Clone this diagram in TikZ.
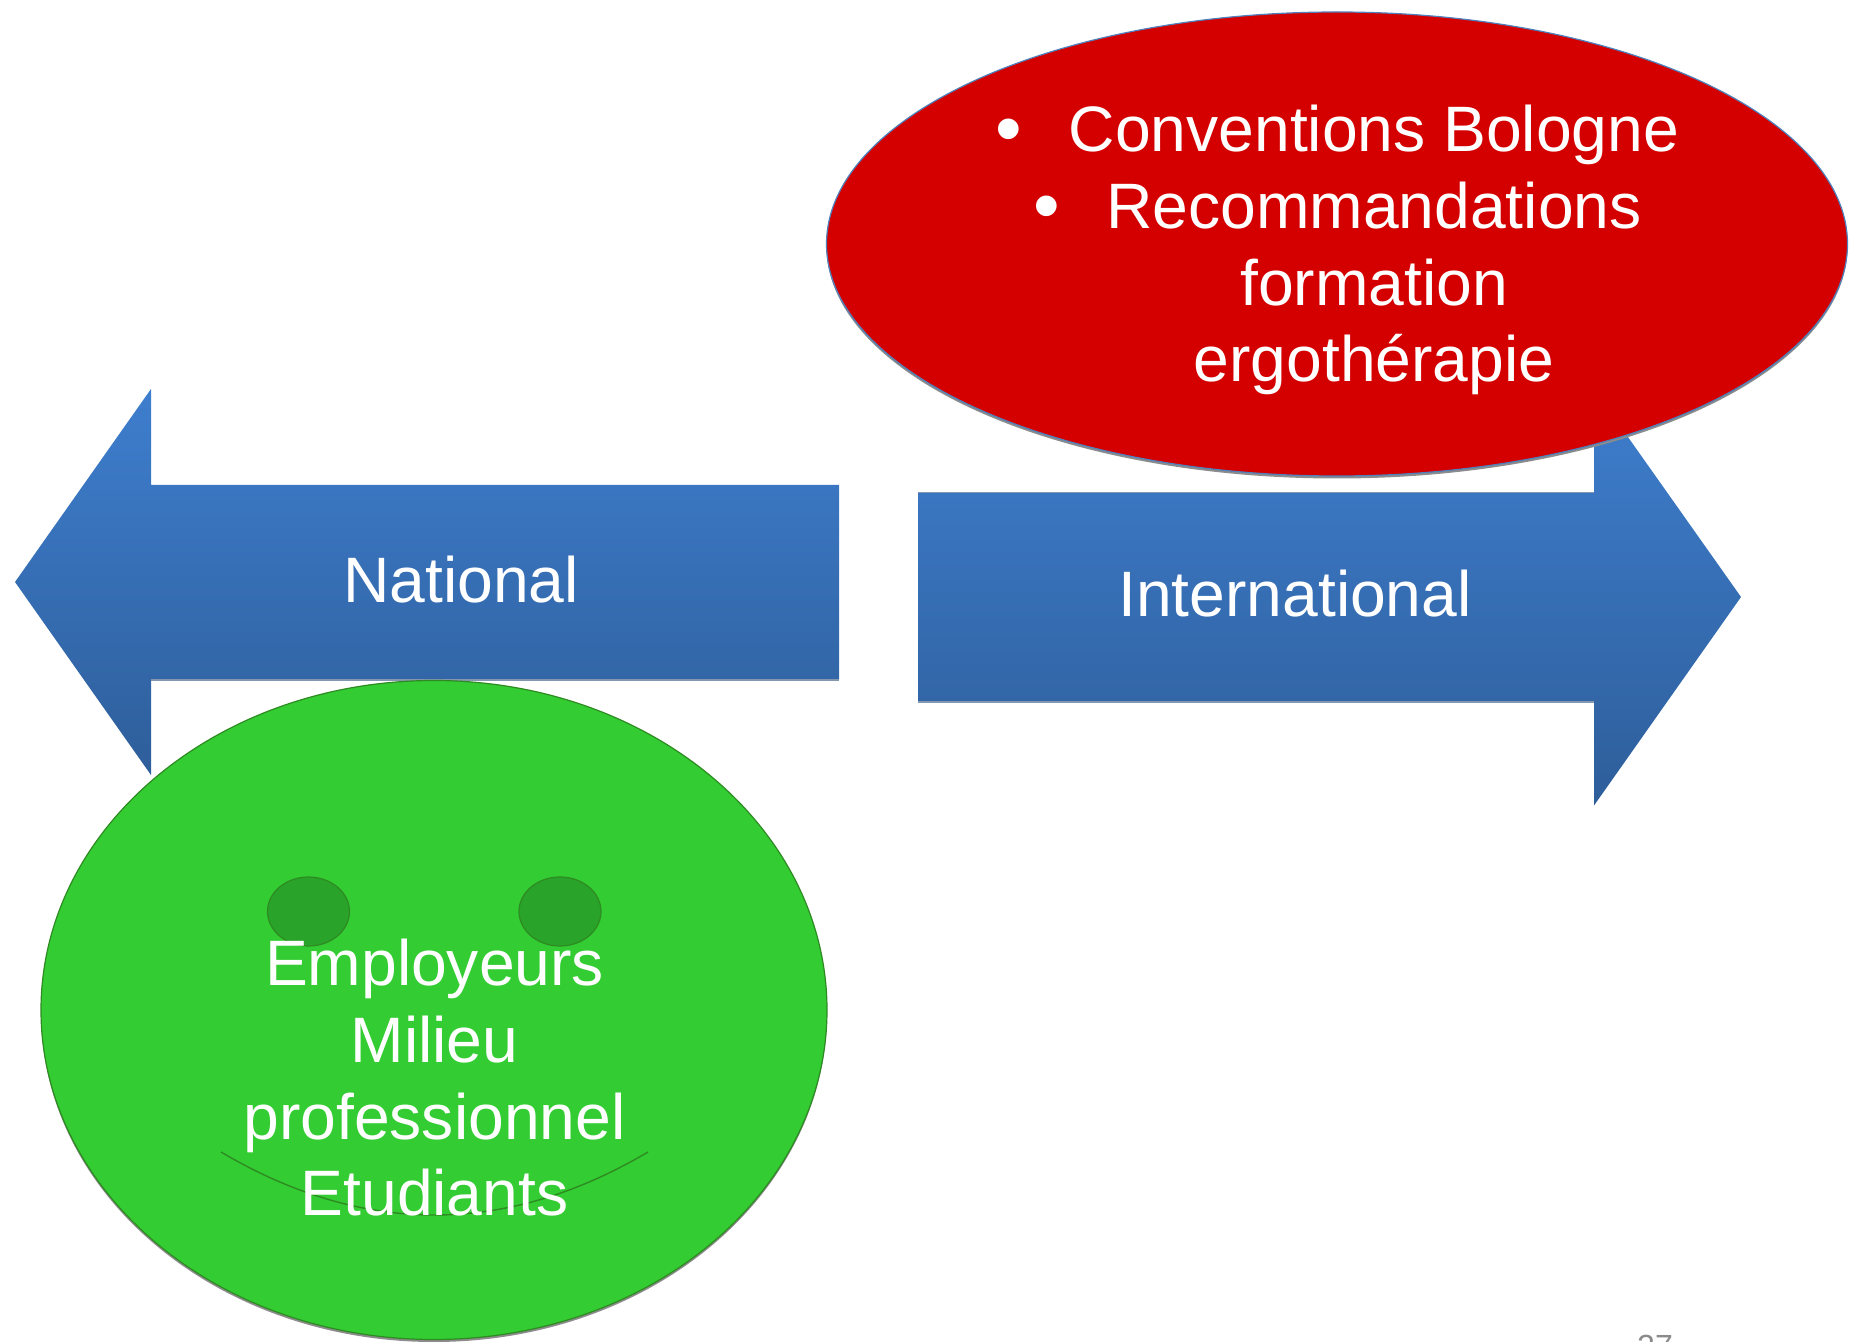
\documentclass[tikz,border=0pt]{standalone}
\usepackage{fontspec}
\setmainfont{Liberation Sans}
\usetikzlibrary{shapes.geometric}
\definecolor{arrowtop}{HTML}{3E7ECE}
\definecolor{arrowbot}{HTML}{2E5E9A}
\definecolor{arrowedge}{HTML}{8497B0}
\definecolor{redfill}{HTML}{D40000}
\definecolor{redline}{HTML}{4F81BD}
\definecolor{greenfill}{HTML}{33CC33}
\definecolor{greenline}{HTML}{2E8B22}
\definecolor{eyefill}{HTML}{29A329}
\definecolor{shadowgrey}{HTML}{8C8C8C}
\definecolor{pagegrey}{HTML}{8B8B8B}
\tikzset{
  arrowshape/.style={top color=arrowtop,bottom color=arrowbot,draw=none},
  arrowrim/.style={draw=arrowedge,line width=1pt},
  blob/.style={shape=ellipse,inner sep=0pt,outer sep=0pt},
  blobshadow/.style={blob,fill=shadowgrey,draw=none},
  redblob/.style={blob,fill=redfill,draw=redline,line width=0.6pt,minimum width=510.5pt,minimum height=232pt},
  greenblob/.style={blob,fill=greenfill,draw=greenline,line width=0.6pt,minimum width=393pt,minimum height=329.5pt},
  eye/.style={blob,fill=eyefill,draw=greenline,line width=0.6pt,minimum width=41pt,minimum height=34.5pt},
  smile/.style={draw=greenline,line width=0.7pt},
  label/.style={text=white,anchor=base,inner sep=0pt,font=\fontsize{32.1}{38.3}\selectfont},
  bulletmark/.style={text=white,anchor=base,inner sep=0pt,font=\fontsize{38}{46}\selectfont},
  pagenum/.style={text=pagegrey,anchor=base,inner sep=0pt,font=\fontsize{16}{19}\selectfont}
}
\begin{document}
\begin{tikzpicture}[x=0.5pt,y=-0.5pt]
\useasboundingbox (0,0) rectangle (1854,1342);
\begin{scope}
\clip (0,0) rectangle (1854,1342);
% left arrow
\path[arrowshape] (15,582) -- (151,389) -- (151,485) -- (839,485) -- (839,679) -- (151,679) -- (151,775) -- cycle;
\draw[arrowrim] (151,680) -- (839,680);
\node[label] (national) at (461,602.5) {National};
% right arrow
\path[arrowshape] (1741,597) -- (1594,805.5) -- (1594,701) -- (918,701) -- (918,493) -- (1594,493) -- (1594,389) -- cycle;
\draw[arrowrim] (918,702) -- (1594,702);
\draw[arrowrim,line width=0.5pt] (918,492.5) -- (1594,492.5);
\node[label] (international) at (1295,616.5) {International};
% red ellipse
\node[blobshadow,minimum width=510.5pt,minimum height=232pt] (redshadow) at (1337,246.5) {};
\node[redblob] (red) at (1337,244) {};
\node[bulletmark] (bulletA) at (1009,155) {•};
\node[label] (conv) at (1374,152) {Conventions Bologne};
\node[bulletmark] (bulletB) at (1047,232) {•};
\node[label] (reco) at (1374,229) {Recommandations};
\node[label] (form) at (1374,305.5) {formation};
\node[label] (ergo) at (1374,382) {ergothérapie};
% green face
\node[blobshadow,minimum width=393pt,minimum height=329.5pt] (greenshadow) at (434,1012.5) {};
\node[greenblob] (green) at (434,1010) {};
\node[eye] (eyeL) at (308.5,911.5) {};
\node[eye] (eyeR) at (560,911.5) {};
\coordinate (smileL) at (221,1152);
\coordinate (smileR) at (648,1152);
\coordinate (smileCA) at (363,1236);
\coordinate (smileCB) at (506,1236);
\draw[smile] (smileL) .. controls (smileCA) and (smileCB) .. (smileR);
\node[label] (emp) at (434.5,985.5) {Employeurs};
\node[label] (mil) at (434.5,1062) {Milieu};
\node[label] (pro) at (434.5,1139) {professionnel};
\node[label] (etu) at (434.5,1215.5) {Etudiants};
% page number
\node[pagenum] (page) at (1655,1357) {27};
\end{scope}
\end{tikzpicture}
\end{document}
